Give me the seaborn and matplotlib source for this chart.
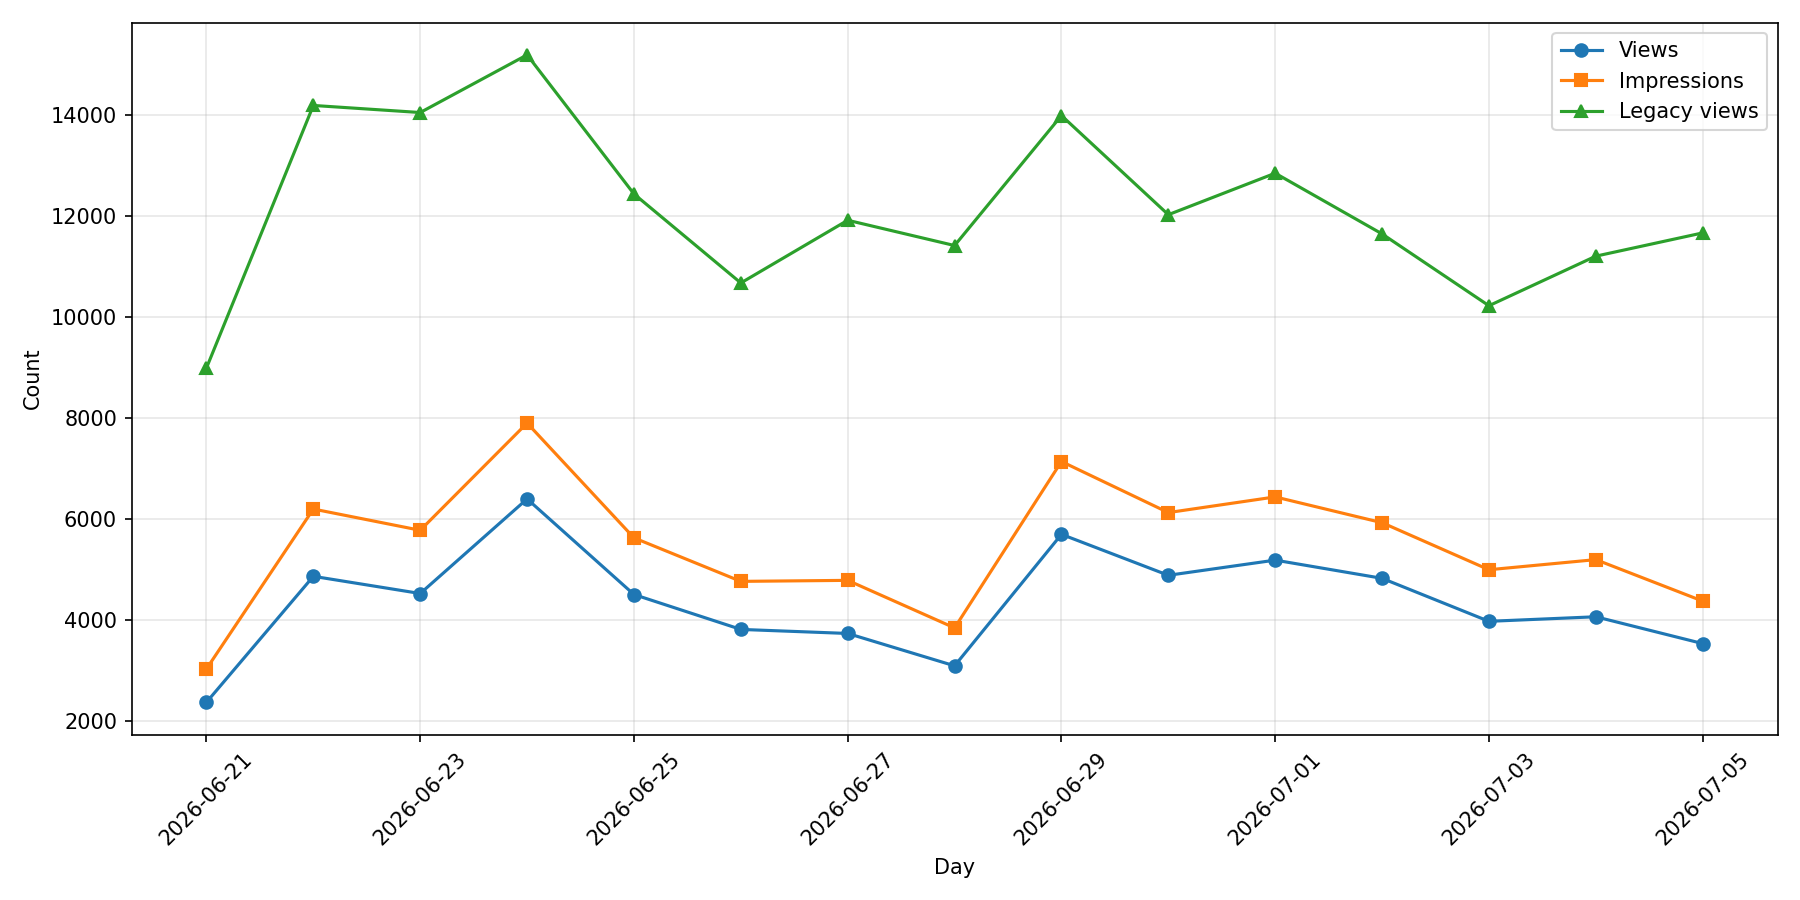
import pandas as pd
import numpy as np
import seaborn as sns
import matplotlib.pyplot as plt
import matplotlib.dates as mdates

# daily counts
days = pd.date_range("2026-06-21", "2026-07-05", freq="D")
views = [2380, 4870, 4530, 6400, 4510, 3820, 3740, 3100, 5700, 4890, 5190, 4830, 3980, 4070, 3540]
impressions = [3040, 6200, 5780, 7900, 5630, 4770, 4790, 3850, 7140, 6130, 6440, 5930, 5000, 5200, 4380]
legacy_views = [8990, 14180, 14040, 15180, 12430, 10670, 11910, 11410, 13980, 12020, 12840, 11640, 10220, 11200, 11660]

series = [
    ("Views", views, "o", "#1f77b4"),
    ("Impressions", impressions, "s", "#ff7f0e"),
    ("Legacy views", legacy_views, "^", "#2ca02c"),
]

fig, ax = plt.subplots(figsize=(12, 6), dpi=150)

for name, vals, mk, col in series:
    df = pd.DataFrame({"Day": days, "Count": vals})
    sns.lineplot(data=df, x="Day", y="Count", marker=mk, color=col, label=name,
                 markersize=6, markeredgewidth=1, markeredgecolor=col,
                 linewidth=1.5, ax=ax)

ax.xaxis.set_major_locator(mdates.DayLocator(bymonthday=[21, 23, 25, 27, 29, 1, 3, 5]))
ax.xaxis.set_major_formatter(mdates.DateFormatter("%Y-%m-%d"))
plt.setp(ax.get_xticklabels(), rotation=45)
ax.grid(True, alpha=0.3)
ax.set_xlabel("Day")
ax.set_ylabel("Count")
ax.legend(loc="upper right")

plt.tight_layout()
plt.savefig("out.png")
